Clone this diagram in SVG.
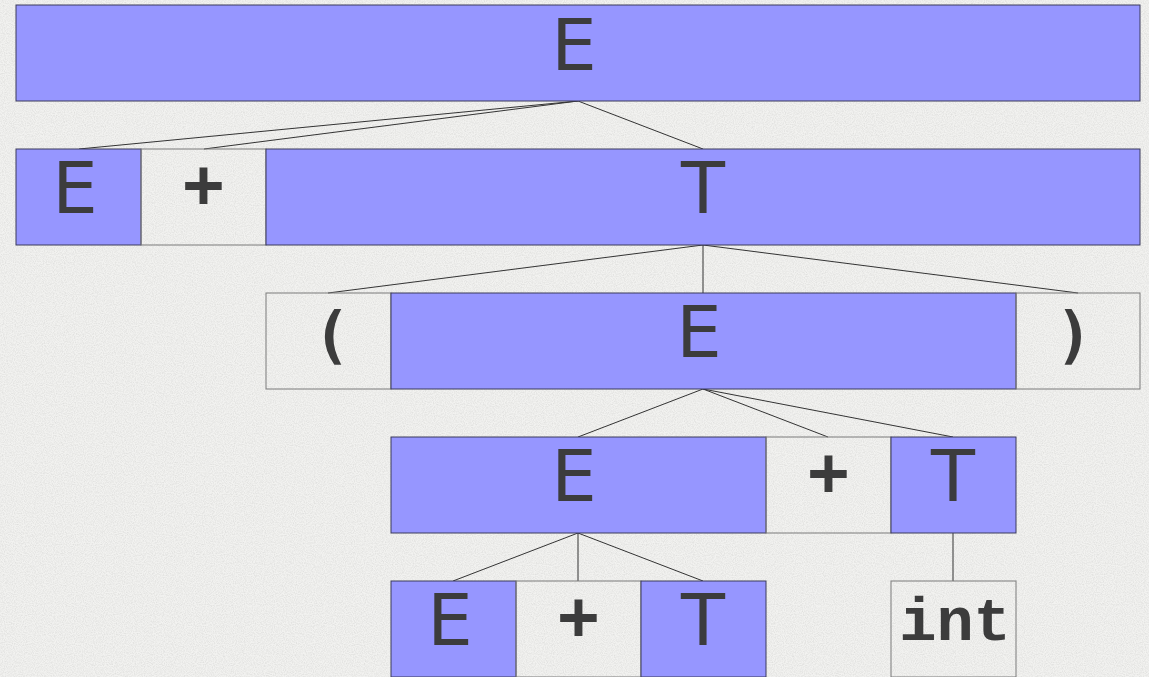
<svg xmlns="http://www.w3.org/2000/svg" width="1149" height="677" viewBox="0 0 1149 677">
<style>
.nt{fill:#9696ff;stroke:#3a3a5a;stroke-width:1}
.t{fill:none;stroke:#7a7a7a;stroke-width:1}
.lbl{font-family:"DejaVu Sans","Verdana",sans-serif;font-size:72px;fill:#3c3c3c;text-anchor:middle}
.sym{font-family:"DejaVu Sans Mono",monospace;font-weight:bold;font-size:68px;fill:#3c3c3c;text-anchor:middle}
.par{font-family:"DejaVu Sans Mono",monospace;font-weight:bold;font-size:62px;fill:#3c3c3c;text-anchor:middle}
.kw{font-family:"Liberation Mono","Courier New",monospace;font-weight:bold;font-size:62px;fill:#3c3c3c;text-anchor:middle}
.edges line{stroke:#333;stroke-width:1}
</style>
<defs>
<filter id="noise" x="0" y="0" width="100%" height="100%">
<feTurbulence type="fractalNoise" baseFrequency="0.9" numOctaves="2" seed="3" result="n"/>
<feColorMatrix in="n" type="matrix" values="0 0 0 0 0.55  0 0 0 0 0.55  0 0 0 0 0.54  0 0 0 -1.6 1.05"/>
</filter>
</defs>
<rect width="1149" height="677" fill="#f2f2f0"/>
<rect width="1149" height="677" filter="url(#noise)" opacity="0.45"/>
<g class="edges">
<line x1="578" y1="101" x2="79" y2="149"/>
<line x1="578" y1="101" x2="204" y2="149"/>
<line x1="578" y1="101" x2="703" y2="149"/>
<line x1="703" y1="245" x2="328" y2="293"/>
<line x1="703" y1="245" x2="703" y2="293"/>
<line x1="703" y1="245" x2="1078" y2="293"/>
<line x1="703" y1="389" x2="578" y2="437"/>
<line x1="703" y1="389" x2="828" y2="437"/>
<line x1="703" y1="389" x2="953" y2="437"/>
<line x1="578" y1="533" x2="453" y2="581"/>
<line x1="578" y1="533" x2="578" y2="581"/>
<line x1="578" y1="533" x2="703" y2="581"/>
<line x1="953" y1="533" x2="953" y2="581"/>
</g>
<g id="n1"><rect class="nt" x="16" y="5" width="1124" height="96"/><text class="lbl" x="574" y="70">E</text></g>
<g id="n2"><rect class="nt" x="16" y="149" width="125" height="96"/><text class="lbl" x="75" y="213">E</text></g>
<g id="n3"><rect class="t" x="141" y="149" width="125" height="96"/><text class="sym" x="203.5" y="207">+</text></g>
<g id="n4"><rect class="nt" x="266" y="149" width="874" height="96"/><text class="lbl" x="703" y="213">T</text></g>
<g id="n5"><rect class="t" x="266" y="293" width="125" height="96"/><text class="par" x="332" y="356">(</text></g>
<g id="n6"><rect class="nt" x="391" y="293" width="625" height="96"/><text class="lbl" x="699" y="357">E</text></g>
<g id="n7"><rect class="t" x="1016" y="293" width="124" height="96"/><text class="par" x="1074" y="356">)</text></g>
<g id="n8"><rect class="nt" x="391" y="437" width="375" height="96"/><text class="lbl" x="574" y="501">E</text></g>
<g id="n9"><rect class="t" x="766" y="437" width="125" height="96"/><text class="sym" x="828.5" y="495">+</text></g>
<g id="n10"><rect class="nt" x="891" y="437" width="125" height="96"/><text class="lbl" x="953" y="501">T</text></g>
<g id="n11"><rect class="nt" x="391" y="581" width="125" height="96"/><text class="lbl" x="450" y="645">E</text></g>
<g id="n12"><rect class="t" x="516" y="581" width="125" height="96"/><text class="sym" x="578.5" y="639">+</text></g>
<g id="n13"><rect class="nt" x="641" y="581" width="125" height="96"/><text class="lbl" x="703" y="645">T</text></g>
<g id="n14"><rect class="t" x="891" y="581" width="125" height="96"/><text class="kw" x="955" y="640">int</text></g>
</svg>
